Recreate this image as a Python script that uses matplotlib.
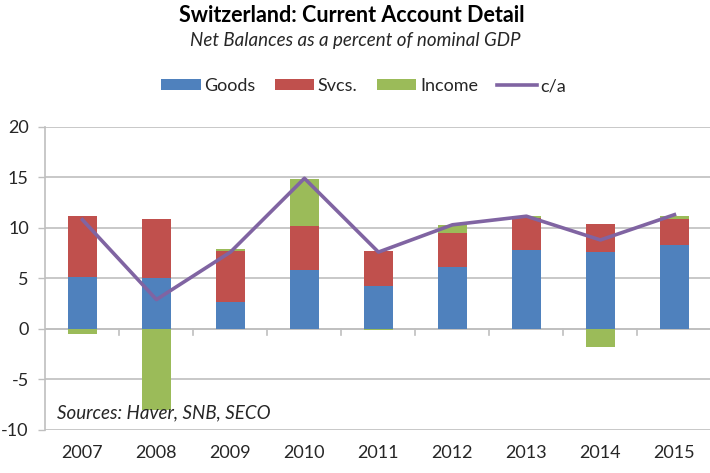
import matplotlib
matplotlib.use("Agg")
import matplotlib.pyplot as plt
import numpy as np
from matplotlib.lines import Line2D
from matplotlib.patches import Patch

plt.rcParams["font.family"] = ["Lato", "DejaVu Sans"]
plt.rcParams["axes.unicode_minus"] = False

years = ["2007", "2008", "2009", "2010", "2011", "2012", "2013", "2014", "2015"]
goods = [5.1, 5.0, 2.7, 5.85, 4.2, 6.1, 7.85, 7.65, 8.3]
svcs = [6.1, 5.9, 5.0, 4.35, 3.5, 3.35, 3.15, 2.75, 2.55]
income = [-0.5, -8.0, 0.2, 4.6, -0.15, 0.85, 0.15, -1.75, 0.35]
current_account = [10.8, 2.9, 7.6, 14.9, 7.6, 10.3, 11.15, 8.8, 11.3]

BLUE = "#4F81BD"
RED = "#C0504D"
GREEN = "#9BBB59"
PURPLE = "#8064A2"
GRID = "#BFBFBF"
TEXT = "#262626"

fig = plt.figure(figsize=(7.1, 4.73), dpi=100)
ax = fig.add_axes([0.064, 0.091, 0.938, 0.641])

x = np.arange(len(years))
goods = np.array(goods)
svcs = np.array(svcs)
income = np.array(income)

# stack positives upward, negatives downward
pos_base = np.zeros(len(x))
neg_base = np.zeros(len(x))
for vals, col in [(goods, BLUE), (svcs, RED), (income, GREEN)]:
    bottoms = np.where(vals >= 0, pos_base, neg_base)
    ax.bar(x, vals, width=0.4, bottom=bottoms, color=col, zorder=3)
    pos_base = pos_base + np.clip(vals, 0, None)
    neg_base = neg_base + np.clip(vals, None, 0)

ax.plot(x, current_account, color=PURPLE, linewidth=2.6, zorder=4)

ax.set_xlim(-0.5, len(years) - 0.5)
ax.set_ylim(-10, 20)
ax.set_yticks(range(-10, 21, 5))
ax.yaxis.grid(True, color=GRID, linewidth=1.2, zorder=0)
ax.set_axisbelow(True)

ax.set_xticks(x)
ax.set_xticklabels(years)
ax.tick_params(axis="x", length=0, pad=11, labelsize=13, colors=TEXT)
ax.tick_params(axis="y", length=5, width=1, colors=GRID, labelcolor=TEXT, labelsize=13, pad=7)

for side in ["top", "right", "bottom"]:
    ax.spines[side].set_visible(False)
ax.spines["left"].set_color(GRID)
ax.spines["left"].set_linewidth(1.2)

# zero line with category separator ticks
ax.axhline(0, color=GRID, linewidth=1.2, zorder=2)
for b in np.arange(0.5, len(years) - 0.5, 1.0):
    ax.plot([b, b], [0, -0.6], color=GRID, linewidth=1.2, zorder=2, clip_on=False)

ax.text(0.018, 0.028, "Sources: Haver, SNB, SECO", transform=ax.transAxes,
        fontsize=13.5, style="italic", color=TEXT, ha="left", va="bottom")

fig.text(0.495, 0.968, "Switzerland: Current Account Detail", ha="center", va="center",
         fontsize=15.5, fontweight="bold", color="black")
fig.text(0.5, 0.914, "Net Balances as a percent of nominal GDP", ha="center", va="center",
         fontsize=13.5, style="italic", color=TEXT)

handles = [
    Patch(facecolor=BLUE, label="Goods"),
    Patch(facecolor=RED, label="Svcs."),
    Patch(facecolor=GREEN, label="Income"),
    Line2D([0], [0], color=PURPLE, linewidth=2.6, label="c/a"),
]
fig.legend(handles=handles, loc="center", bbox_to_anchor=(0.512, 0.818), ncol=4,
           frameon=False, fontsize=13, handlelength=2.2, handleheight=0.6,
           handletextpad=0.2, columnspacing=1.05, labelcolor=TEXT)

fig.savefig("out.png", dpi=100)
